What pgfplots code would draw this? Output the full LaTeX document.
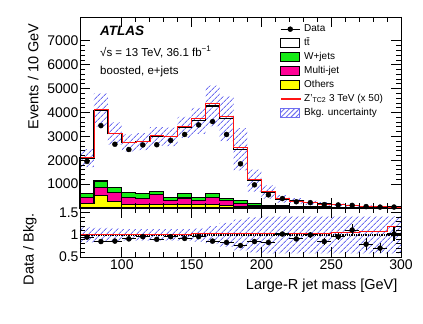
\documentclass[border=0pt]{standalone}
\usepackage{fontspec}
\setmainfont{Liberation Sans}
\usepackage{pgfplots}
\usepackage{pgfplotstable}
\pgfplotsset{compat=1.18}
\usepgfplotslibrary{fillbetween}
\usetikzlibrary{patterns.meta}

\definecolor{wjets}{RGB}{20,235,20}
\definecolor{multijet}{RGB}{255,0,150}
\definecolor{others}{RGB}{255,255,0}
\definecolor{hatch}{RGB}{110,110,240}
\definecolor{zline}{RGB}{255,20,20}

% bin lower edges, last row repeats the 290 bin to close the step at 300
\pgfplotstableread{
x   tot  red  up   lo   yel pink green
70  2090 2110 2466 1714 200 430  590
80  4100 4140 4797 3403 525 865  1130
90  3120 3150 3588 2652 273 651  861
100 2730 2760 3085 2375 160 441  664
110 2780 2810 3141 2419 134 412  622
120 3000 3030 3390 2610 134 555  693
130 2980 3010 3367 2593 134 310  441
140 3380 3410 3819 2941 160 420  600
150 3650 3760 4198 3103 134 315  441
160 4270 4400 5124 3416 134 450  600
170 3740 3850 4675 2805 110 302  412
180 2460 2530 3346 1574 63  200  300
190 1150 1185 1610 690  40  110  180
200 670  697  951  389  25  70   120
210 380  395  540  220  18  50   85
220 290  302  412  168  12  35   65
230 220  229  312  128  10  28   50
240 170  177  241  99   8   22   40
250 130  138  185  75   6   17   32
260 100  106  142  58   5   13   25
270 75   82   107  44   4   10   20
280 55   60   78   32   3   8    15
290 40   48   57   23   2   6    12
300 40   48   57   23   2   6    12
}\hist

\pgfplotstableread{
x   up   lo   red
70  1.17 0.83 1.01
80  1.16 0.84 1.01
90  1.15 0.85 1.01
100 1.13 0.87 1.01
110 1.13 0.87 1.01
120 1.13 0.87 1.01
130 1.13 0.87 1.01
140 1.13 0.87 1.01
150 1.15 0.85 1.03
160 1.20 0.80 1.03
170 1.27 0.73 1.03
180 1.35 0.65 1.03
190 1.40 0.60 1.03
200 1.42 0.58 1.04
210 1.42 0.58 1.04
220 1.42 0.58 1.04
230 1.42 0.58 1.04
240 1.42 0.58 1.04
250 1.42 0.58 1.06
260 1.42 0.58 1.06
270 1.42 0.58 1.09
280 1.42 0.58 1.09
290 1.42 0.58 1.20
300 1.42 0.58 1.20
}\rband

\pgfplotstableread{
x   d    ed  r    er
75  1950 44  0.95 0.015
85  3450 59  0.85 0.012
95  2670 52  0.86 0.014
105 2450 49  0.91 0.015
115 2640 51  0.96 0.015
125 2650 51  0.90 0.015
135 2830 53  0.96 0.014
145 3080 55  0.92 0.014
155 3480 59  0.96 0.013
165 3620 60  0.86 0.013
175 3080 55  0.83 0.014
185 1850 43  0.76 0.018
195 970  31  0.85 0.027
205 550  23  0.83 0.035
215 395  20  1.02 0.045
225 261  16  0.91 0.05
235 224  15  1.00 0.06
245 141  12  0.85 0.07
255 127  11  0.96 0.08
265 110  10  1.11 0.14
275 59   8   0.79 0.13
285 37   6   0.70 0.11
295 40   6   1.02 0.15
}\data

\pgfplotsset{
  atl/.style={
    scale only axis, width=321pt,
    xmin=70, xmax=300,
    xtick={100,150,200,250,300}, minor x tick num=4,
    tick align=inside, tick pos=both,
    major tick length=10pt, minor tick length=5pt,
    axis line style={line width=0.9pt}, every tick/.style={line width=0.8pt},
    tick label style={font=\fontsize{14}{16}\selectfont},
    /pgf/number format/assume math mode=true,
    /pgf/number format/1000 sep={},
    yticklabel style={xshift=2pt},
    label style={font=\fontsize{14.5}{17}\selectfont},
    axis on top,
  },
  boxleg/.style={legend image code/.code={\draw[##1] (0pt,-4.5pt) rectangle (19pt,4.5pt);}},
  redleg/.style={legend image code/.code={\fill[zline] (0pt,-0.5pt) rectangle (19pt,0.5pt);}},
  dataleg/.style={legend image code/.code={\draw[black,line width=0.9pt] (0pt,0pt) -- (19pt,0pt); \fill[black] (9.5pt,0pt) circle (2.5pt);}},
  hatchfill/.style={draw=none, pattern={Lines[angle=45,distance=4pt,line width=1pt]}, pattern color=hatch},
}

\begin{document}
\begin{tikzpicture}
\begin{axis}[atl, name=main, height=191pt,
  ymin=0, ymax=8000, ytick={1000,2000,...,7000}, minor y tick num=4,
  scaled y ticks=false, xticklabels={},
  ylabel={Events / 10 GeV},
  ylabel style={at={(axis description cs:-0.146,0.984)}, anchor=east},
  legend style={at={(axis description cs:0.614,0.974)}, anchor=north west,
    draw=none, fill=none, font=\fontsize{10}{12}\selectfont,
    row sep=4pt, column sep=4pt,
    nodes={inner sep=0pt, text height=7.3pt, text depth=2.7pt}},
  legend cell align=left]

\addlegendimage{dataleg}
\addlegendentry{Data}
\addlegendimage{boxleg, draw=black, line width=0.9pt, fill=white}
\addlegendentry{t\={t}}
\addlegendimage{boxleg, draw=black, line width=0.9pt, fill=wjets}
\addlegendentry{W+jets}
\addlegendimage{boxleg, draw=black, line width=0.9pt, fill=multijet}
\addlegendentry{Multi-jet}
\addlegendimage{boxleg, draw=black, line width=0.9pt, fill=others}
\addlegendentry{Others}
\addlegendimage{redleg}
\addlegendentry{Z\textquoteright\textsubscript{TC2} 3 TeV (x 50)}
\addlegendimage{boxleg, draw=hatch, line width=0.6pt, pattern={Lines[angle=45,distance=3.5pt,line width=0.9pt]}, pattern color=hatch}
\addlegendentry{Bkg. uncertainty}

\addplot[forget plot, on layer=pre main, const plot, fill=white, draw=black, line width=1.2pt] table[x=x,y=tot]{\hist} \closedcycle;
\addplot[forget plot, on layer=pre main, const plot, fill=wjets, draw=black, line width=1.1pt] table[x=x,y=green]{\hist} \closedcycle;
\addplot[forget plot, on layer=pre main, const plot, fill=multijet, draw=black, line width=1.1pt] table[x=x,y=pink]{\hist} \closedcycle;
\addplot[forget plot, on layer=pre main, const plot, fill=others, draw=black, line width=1.1pt] table[x=x,y=yel]{\hist} \closedcycle;

\addplot[forget plot, const plot, draw=none, name path=up] table[x=x,y=up]{\hist};
\addplot[forget plot, const plot, draw=none, name path=lo] table[x=x,y=lo]{\hist};
\addplot[forget plot, hatchfill] fill between[of=up and lo];

\addplot[forget plot, const plot, black, line width=1.2pt] table[x=x,y=tot]{\hist};
\addplot[forget plot, const plot, zline, line width=0.5pt] table[x=x,y=red]{\hist};

\addplot[forget plot, only marks, mark=*, mark size=2.5pt, black,
  error bars/.cd, y dir=both, y explicit, error mark=none,
  error bar style={line width=1.1pt}] table[x=x,y=d,y error=ed]{\data};

\node[anchor=base west, font=\fontsize{13.5}{15}\selectfont\bfseries\itshape] at (rel axis cs:0.052,0.902) {ATLAS};
\node[anchor=base west, font=\fontsize{11.5}{13}\selectfont] at (rel axis cs:0.052,0.795) {√s = 13 TeV, 36.1 fb\textsuperscript{−1}};
\node[anchor=base west, font=\fontsize{11.5}{13}\selectfont] at (rel axis cs:0.052,0.700) {boosted, e+jets};
\end{axis}

\begin{axis}[atl, name=ratio, at={(main.south west)}, anchor=north west, height=49pt,
  ymin=0.5, ymax=1.61, ytick={0.5,1,1.5}, minor y tick num=4,
  ylabel={Data / Bkg.},
  ylabel style={at={(axis description cs:-0.156,0.96)}, anchor=east},
  xlabel={Large-R jet mass [GeV]},
  xlabel style={at={(axis description cs:1,-0.67)}, anchor=base east},
  xticklabel style={yshift=1pt}]

\addplot[const plot, draw=none, name path=rup] table[x=x,y=up]{\rband};
\addplot[const plot, draw=none, name path=rlo] table[x=x,y=lo]{\rband};
\addplot[hatchfill] fill between[of=rup and rlo];

\addplot[black, densely dotted, line width=1.3pt] coordinates {(70,1) (300,1)};
\addplot[const plot, zline, line width=0.7pt] table[x=x,y=red]{\rband};

\addplot[only marks, mark=*, mark size=2.5pt, black,
  error bars/.cd, x dir=both, x fixed=5, y dir=both, y explicit, error mark=none,
  error bar style={line width=1.1pt}] table[x=x,y=r,y error=er]{\data};
\end{axis}

\path[use as bounding box] ([xshift=-80pt,yshift=17pt]main.north west) rectangle ([xshift=22pt,yshift=-67pt]ratio.south east);
\end{tikzpicture}
\end{document}
